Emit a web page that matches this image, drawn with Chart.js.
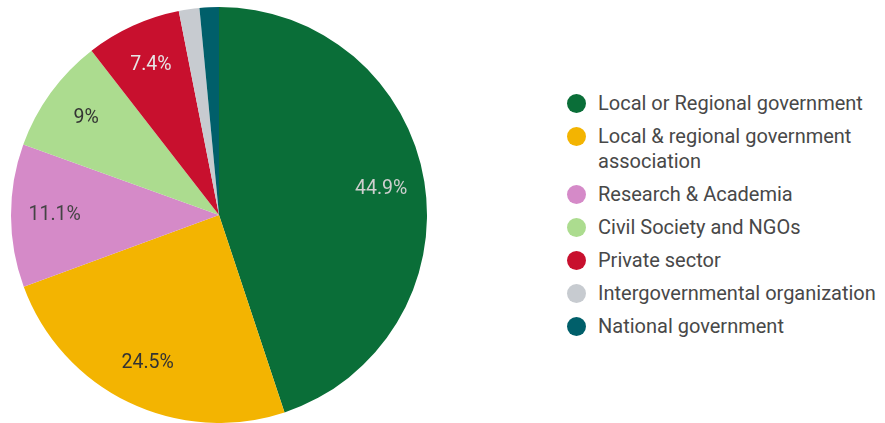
<!DOCTYPE html>
<html>
<head>
<meta charset="utf-8">
<script src="https://cdn.jsdelivr.net/npm/chart.js@4.4.0/dist/chart.umd.min.js"></script>
<style>
  body { margin: 0; background: #fff; font-family: Roboto, sans-serif; }
  #wrap { position: relative; width: 885px; height: 423px; }
  #pieBox { position: absolute; left: 0; top: 0; width: 438px; height: 423px; }
  #legend { position: absolute; left: 565px; top: 91px; list-style: none; margin: 0; padding: 0; }
  #legend li { position: relative; padding-left: 33px; font-size: 20px; line-height: 25px; color: #484848; margin-bottom: 8px; white-space: nowrap; }
  #legend li span { position: absolute; left: 2px; top: 3px; width: 19px; height: 19px; border-radius: 50%; }
</style>
</head>
<body>
<div id="wrap">
  <div id="pieBox"><canvas id="chart"></canvas></div>
  <ul id="legend"></ul>
</div>
<script>
var categories = ['Local or Regional government', 'Local & regional government association', 'Research & Academia', 'Civil Society and NGOs', 'Private sector', 'Intergovernmental organization', 'National government'];
var legendLines = [['Local or Regional government'], ['Local & regional government', 'association'], ['Research & Academia'], ['Civil Society and NGOs'], ['Private sector'], ['Intergovernmental organization'], ['National government']];
var shares = [44.9, 24.5, 11.1, 9, 7.4, 1.6, 1.5];
var colors = ['#0a6e38', '#f3b401', '#d58ac8', '#acdc8f', '#c8102e', '#c7cbd0', '#005f6a'];
var labelColors = ['#cfcfcf', '#333333', '#444444', '#333333', '#e6e6e6', null, null];

// draw percent labels inside slices
var sliceLabels = {
  id: 'sliceLabels',
  afterDatasetsDraw: function(chart) {
    var ctx = chart.ctx;
    var meta = chart.getDatasetMeta(0);
    ctx.save();
    ctx.font = '19.5px Roboto, sans-serif';
    ctx.textAlign = 'center';
    ctx.textBaseline = 'middle';
    meta.data.forEach(function(arc, i) {
      if (!labelColors[i]) return;
      var p = arc.getProps(['x', 'y', 'startAngle', 'endAngle', 'outerRadius'], true);
      var mid = (p.startAngle + p.endAngle) / 2;
      var r = p.outerRadius * 0.79;
      ctx.fillStyle = labelColors[i];
      ctx.fillText(shares[i] + '%', p.x + Math.cos(mid) * r, p.y + Math.sin(mid) * r);
    });
    ctx.restore();
  }
};

new Chart(document.getElementById('chart'), {
  type: 'pie',
  data: {
    labels: categories,
    datasets: [{ data: shares, backgroundColor: colors, borderWidth: 0 }]
  },
  options: {
    responsive: true,
    maintainAspectRatio: false,
    animation: false,
    layout: { padding: { top: 7, bottom: 0 } },
    plugins: { legend: { display: false }, tooltip: { enabled: false } }
  },
  plugins: [sliceLabels]
});

var ul = document.getElementById('legend');
legendLines.forEach(function(lines, i) {
  var li = document.createElement('li');
  var dot = document.createElement('span');
  dot.style.background = colors[i];
  li.appendChild(dot);
  li.appendChild(document.createTextNode(lines[0]));
  for (var k = 1; k < lines.length; k++) {
    li.appendChild(document.createElement('br'));
    li.appendChild(document.createTextNode(lines[k]));
  }
  ul.appendChild(li);
});
</script>
</body>
</html>
